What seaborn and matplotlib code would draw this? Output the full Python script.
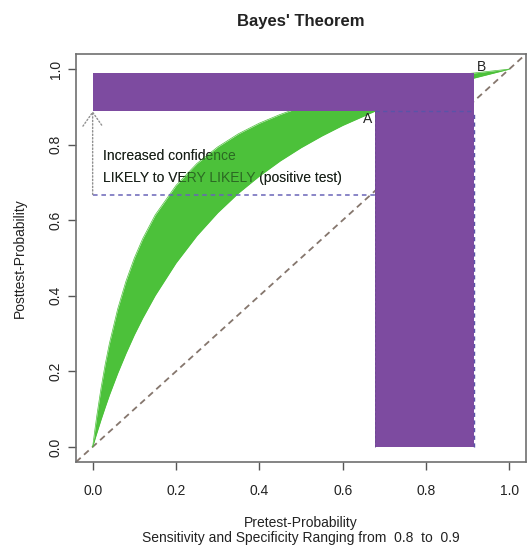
import numpy as np
import pandas as pd
import matplotlib
matplotlib.use("Agg")
import matplotlib.pyplot as plt
import seaborn as sns

# ---- data ----
pretest = [0.0, 0.005, 0.01, 0.02, 0.03, 0.04, 0.06, 0.08, 0.10, 0.12, 0.15,
           0.20, 0.25, 0.30, 0.35, 0.40, 0.45, 0.50, 0.55, 0.60, 0.678, 0.70,
           0.80, 0.90, 0.95, 1.0]
posttest_low = [0.0, 0.019, 0.037, 0.072, 0.105, 0.137, 0.195, 0.248, 0.297,
                0.341, 0.401, 0.487, 0.559, 0.620, 0.672, 0.717, 0.757, 0.792,
                0.823, 0.851, 0.889, 0.899, 0.938, 0.972, 0.986, 1.0]
posttest_high = [0.0, 0.043, 0.083, 0.155, 0.218, 0.273, 0.365, 0.439, 0.500,
                 0.551, 0.614, 0.692, 0.750, 0.794, 0.829, 0.857, 0.880, 0.900,
                 0.917, 0.931, 0.950, 0.955, 0.973, 0.988, 0.994, 1.0]
likely_level = 0.668
pretest_A = 0.678
posttest_A = 0.889
pretest_B = 0.916
posttest_B = 0.989
x_ticks = [0.0, 0.2, 0.4, 0.6, 0.8, 1.0]
y_ticks = [0.0, 0.2, 0.4, 0.6, 0.8, 1.0]

GREEN = "#4cc13a"
PURPLE = "#7d4ba0"
DASH_BLUE = "#6a64b8"
TXT = "#222222"

sns.set_style("white")
plt.rcParams["font.family"] = ["Liberation Sans", "DejaVu Sans"]

W, H = 530, 547
fig = plt.figure(figsize=(W / 100, H / 100), dpi=100)
ax = fig.add_axes([76 / W, (H - 462) / H, (526 - 76) / W, (462 - 54) / H])

df = pd.DataFrame({"pretest": pretest, "low": posttest_low, "high": posttest_high})

# diagonal reference line
ax.axline((0, 0), (1, 1), color="#85766d", lw=1.3, ls=(0, (3.5, 2.5)), zorder=1)

# annotation text (base layer under green band)
lines = [(0.769, "Increased confidence"),
         (0.713, "LIKELY to VERY LIKELY (positive test)")]
for yy, s in lines:
    ax.text(0.025, yy, s, fontsize=10, color=TXT, va="center", ha="left", zorder=2)

# green band between the two curves
ax.fill_between(df["pretest"], df["low"], df["high"], color=GREEN, lw=0, zorder=3)
sns.lineplot(data=df, x="pretest", y="low", ax=ax, color=GREEN, lw=0.5, zorder=3)
sns.lineplot(data=df, x="pretest", y="high", ax=ax, color=GREEN, lw=0.5, zorder=3)

# text seen through the green
for yy, s in lines:
    ax.text(0.025, yy, s, fontsize=10, color="#102010", alpha=0.55, va="center",
            ha="left", zorder=3.5)

# purple L-shaped region
ax.fill([0, 0, pretest_B, pretest_B, pretest_A, pretest_A],
        [posttest_A, posttest_B, posttest_B, 0, 0, posttest_A],
        color=PURPLE, lw=0, zorder=4)

# dashed guide lines
dash = (0, (3, 2.5))
ax.plot([0, pretest_A], [likely_level, likely_level], color=DASH_BLUE, lw=1.1,
        ls=dash, zorder=5)
ax.plot([pretest_A, pretest_B], [posttest_A, posttest_A], color="#5a54a8",
        lw=1.0, ls=dash, zorder=5)
ax.plot([pretest_B, pretest_B], [0, posttest_A], color="#5a54a8", lw=1.0,
        ls=dash, zorder=5)
ax.plot([pretest_A, pretest_A], [0, posttest_A], color="#6a4a90", lw=0.6,
        ls=dash, zorder=5)

# dotted arrow at x = 0
ax.annotate("", xy=(0, posttest_A), xytext=(0, likely_level),
            arrowprops=dict(arrowstyle="->,head_length=1.0,head_width=0.7",
                            color="#909090", lw=1.0, ls=(0, (1, 1.5)),
                            shrinkA=0, shrinkB=0, mutation_scale=10),
            zorder=5)

# point labels
ax.text(0.661, 0.867, "A", fontsize=10, ha="center", va="center", color=TXT, zorder=6)
ax.text(0.934, 1.005, "B", fontsize=10, ha="center", va="center", color=TXT, zorder=6)

ax.set_xlim(-0.04, 1.04)
ax.set_ylim(-0.04, 1.04)
ax.set_xticks(x_ticks)
ax.set_yticks(y_ticks)
ax.set_xticklabels([f"{v:.1f}" for v in x_ticks], fontsize=10)
ax.set_yticklabels([f"{v:.1f}" for v in y_ticks], fontsize=10, rotation=90,
                   va="center")
ax.tick_params(axis="both", direction="out", length=6, width=1,
               color="#555555", labelcolor=TXT, bottom=True, left=True)
ax.tick_params(axis="x", pad=10)
ax.tick_params(axis="y", pad=3.5)
for s in ax.spines.values():
    s.set_color("#707070")
    s.set_linewidth(1.2)
ax.set_xlabel("")
ax.set_ylabel("")

# titles and axis labels (R base style placement)
fig.text(301 / W, 1 - 21.7 / H, "Bayes' Theorem", fontsize=12, fontweight="bold",
         color=TXT, ha="center", va="center")
fig.text(301 / W, 1 - 523 / H, "Pretest-Probability", fontsize=10, color=TXT,
         ha="center", va="center")
fig.text(301 / W, 1 - 538 / H,
         "Sensitivity and Specificity Ranging from  0.8  to  0.9",
         fontsize=10, color=TXT, ha="center", va="center")
fig.text(20 / W, 1 - 258 / H, "Posttest-Probability", fontsize=10, color=TXT,
         ha="center", va="center", rotation=90)

fig.savefig("out.png", dpi=100, facecolor="white")
